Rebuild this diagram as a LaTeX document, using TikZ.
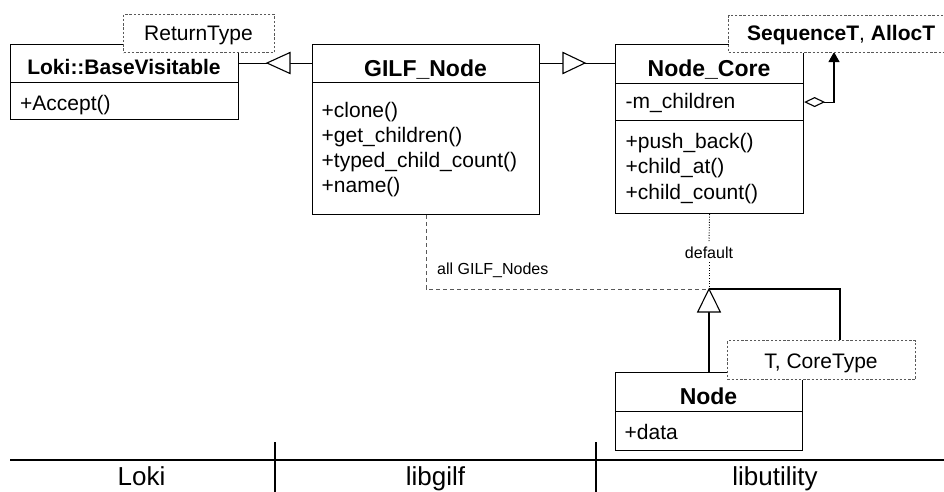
\documentclass[tikz,border=0pt]{standalone}
\usepackage{fontspec}
\setmainfont{Liberation Sans}
\usetikzlibrary{arrows.meta}

\tikzset{
  compartment/.style={draw, line width=1.1pt, fill=white, inner sep=0pt,
    anchor=north west, rectangle},
  tmplbox/.style={draw=black!65, line width=1pt, dash pattern=on 2.4pt off 1.8pt,
    fill=white, inner sep=0pt, anchor=north west, rectangle},
  classname/.style={inner sep=0pt, anchor=base, font=\bfseries\fontsize{23}{27}\selectfont},
  member/.style={inner sep=0pt, anchor=base west, font=\fontsize{21}{25}\selectfont},
  tmpltext/.style={inner sep=0pt, anchor=base, font=\fontsize{21}{25}\selectfont},
  edgelabel/.style={inner sep=0pt, font=\fontsize{16}{19}\selectfont},
  pkglabel/.style={inner sep=0pt, anchor=base, font=\fontsize{26}{30}\selectfont},
  solidline/.style={line width=1.1pt},
  hollowtri/.style={draw, fill=white, line width=1.1pt, line join=miter},
  dashline/.style={draw=black!65, line width=1pt, dash pattern=on 4pt off 3pt},
  dotline/.style={line width=0.9pt, dash pattern=on 1pt off 1.6pt},
}

\begin{document}
\begin{tikzpicture}[x=1pt, y=-1pt]
\useasboundingbox (0,0) rectangle (944,491);
\clip (0,0) rectangle (944,491);

% ---- Loki::BaseVisitable
\node[compartment, minimum width=228pt, minimum height=38pt] (lokihead) at (10,44) {};
\node[compartment, minimum width=228pt, minimum height=37pt] (lokibody) at (10,82) {};
\node[classname, font=\bfseries\fontsize{21}{25}\selectfont] (lokiname) at (124,74) {Loki::BaseVisitable};
\node[member] (lokiop) at (20,110.5) {+Accept()};

% ---- GILF_Node
\node[compartment, minimum width=227pt, minimum height=38pt] (gilfhead) at (312,44) {};
\node[compartment, minimum width=227pt, minimum height=132pt] (gilfbody) at (312,82) {};
\node[classname] (gilfname) at (425.5,76) {GILF\_Node};
\node[member] (gilfop1) at (321.5,117.5) {+clone()};
\node[member] (gilfop2) at (321.5,142.5) {+get\_children()};
\node[member] (gilfop3) at (321.5,167.5) {+typed\_child\_count()};
\node[member] (gilfop4) at (321.5,192.5) {+name()};

% ---- Node_Core
\node[compartment, minimum width=188pt, minimum height=39pt] (corehead) at (615,44) {};
\node[compartment, minimum width=188pt, minimum height=37pt] (coreattr) at (615,83) {};
\node[compartment, minimum width=188pt, minimum height=93pt] (coreops) at (615,120) {};
\node[classname] (corename) at (709,76) {Node\_Core};
\node[member] (coreat1) at (625.5,108) {-m\_children};
\node[member] (coreop1) at (625.5,148) {+push\_back()};
\node[member] (coreop2) at (625.5,173.5) {+child\_at()};
\node[member] (coreop3) at (625.5,199) {+child\_count()};

% ---- Node
\node[compartment, minimum width=187pt, minimum height=39pt] (nodehead) at (615,372) {};
\node[compartment, minimum width=187pt, minimum height=39pt] (nodebody) at (615,411) {};
\node[classname] (nodename) at (708.5,404) {Node};
\node[member] (nodeat1) at (624.5,439) {+data};

% ---- generalisations on the top row
\coordinate (tipA) at (267,63);
\coordinate (tipB) at (585,63);
\draw[solidline] (gilfhead.west) -- (lokihead.east);
\draw[solidline] (gilfhead.east) -- (corehead.west |- gilfhead.east);
\draw[hollowtri] (tipA) -- ++(23,-10.5) -- ++(0,21) -- cycle;
\draw[hollowtri] (tipB) -- ++(-22,-10.5) -- ++(0,21) -- cycle;

% ---- aggregation of the children sequence
\coordinate (aggend) at (834,52);
\draw[solidline, {Diamond[fill=white, length=21pt, width=10pt]}-{Triangle[length=10pt, width=11pt]}]
  (coreattr.east) -| (aggend);

% ---- bindings of Node
\coordinate (join) at (709,289);
\coordinate (joinbase) at (709,312);
\coordinate (tcin) at (840,340);
\node[edgelabel, anchor=base, inner ysep=4pt] (deflabel) at (709,258) {default};
\node[edgelabel, anchor=base west] (alllabel) at (437,274) {all GILF\_Nodes};
\draw[dotline] (coreops.south) -- (deflabel.north);
\draw[dotline] (deflabel.south) -- (join);
\draw[dashline] (gilfbody.south) |- (join);
\draw[solidline] (join) -| (tcin);
\draw[solidline] (joinbase) -- (joinbase |- nodehead.north);
\draw[hollowtri] (join) -- ++(-11.3,23) -- ++(22.6,0) -- cycle;

% ---- template parameter boxes
\node[tmplbox, minimum width=151pt, minimum height=38pt] (rettype) at (123,14) {};
\node[tmpltext] at (198.5,40) {ReturnType};
\node[tmplbox, minimum width=240pt, minimum height=37pt] (seqalloc) at (728,15) {};
\node[tmpltext, anchor=base west] at (747,40) {\textbf{SequenceT}, \textbf{AllocT}};
\node[tmplbox, minimum width=188pt, minimum height=39pt] (coretype) at (727,340) {};
\node[tmpltext] at (821,368) {T, CoreType};

% ---- library partition
\draw[solidline] (10,460) -- (960,460);
\draw[solidline] (275,442) -- (275,495);
\draw[solidline] (596,442) -- (596,495);
\node[pkglabel] (pkgloki) at (141.5,485) {Loki};
\node[pkglabel] (pkggilf) at (435.5,485) {libgilf};
\node[pkglabel] (pkgutil) at (775,485) {libutility};
\end{tikzpicture}
\end{document}
